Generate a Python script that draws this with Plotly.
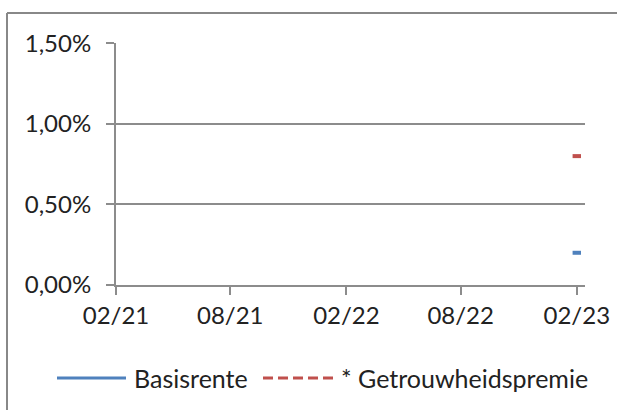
import plotly.graph_objects as go

# Data
dates = ["2023-02-01"]
basisrente = [0.0020]
getrouwheidspremie = [0.0080]
series_names = ["Basisrente", "* Getrouwheidspremie"]
tick_vals = ["2021-02-01", "2021-08-01", "2022-02-01", "2022-08-01", "2023-02-01"]
tick_text = ["02/21", "08/21", "02/22", "08/22", "02/23"]
y_ticks = [0.0, 0.005, 0.010, 0.015]
y_text = ["0,00%", "0,50%", "1,00%", "1,50%"]

BLUE = "#4F81BD"
RED = "#C0504D"
GRID = "#8C8C8C"
FONT = "Lato"
FS = 24

W, H = 617, 410
L, R, T, B = 116, 32, 43, 125

fig = go.Figure()
fig.add_trace(go.Scatter(x=dates, y=basisrente, mode="markers", name=series_names[0],
                         showlegend=False,
                         marker=dict(symbol="line-ew", size=6, line=dict(color=BLUE, width=4))))
fig.add_trace(go.Scatter(x=dates, y=getrouwheidspremie, mode="markers", name=series_names[1],
                         showlegend=False,
                         marker=dict(symbol="line-ew", size=6, line=dict(color=RED, width=4))))

pw = W - L - R
ph = H - T - B
def px_x(p):
    return (p - L) / pw
def px_y(p):
    return (H - B - p) / ph

# chart border (top and left visible)
border = dict(color="#888888", width=2)
fig.add_shape(type="line", xref="paper", yref="paper",
              x0=px_x(7), x1=px_x(620), y0=px_y(13), y1=px_y(13), line=border)
fig.add_shape(type="line", xref="paper", yref="paper",
              x0=px_x(7), x1=px_x(7), y0=px_y(13), y1=px_y(415), line=border)

# legend (manual)
ly = px_y(378)
fig.add_shape(type="line", xref="paper", yref="paper",
              x0=px_x(57), x1=px_x(126), y0=ly, y1=ly, line=dict(color=BLUE, width=3))
fig.add_shape(type="line", xref="paper", yref="paper",
              x0=px_x(263), x1=px_x(336), y0=ly, y1=ly,
              line=dict(color=RED, width=3, dash="10px,5px"))
fig.add_annotation(xref="paper", yref="paper", x=px_x(132), y=ly, text=series_names[0],
                   showarrow=False, xanchor="left", yanchor="middle",
                   font=dict(family=FONT, size=25, color="#222222"))
fig.add_annotation(xref="paper", yref="paper", x=px_x(339), y=ly, text=series_names[1],
                   showarrow=False, xanchor="left", yanchor="middle",
                   font=dict(family=FONT, size=25, color="#222222"))

fig.update_layout(
    width=W, height=H,
    margin=dict(l=L, r=R, t=T, b=B, autoexpand=False),
    paper_bgcolor="white", plot_bgcolor="white",
    font=dict(family=FONT, size=FS, color="#222222"),
    showlegend=False,
    xaxis=dict(type="date", range=["2021-02-01", "2023-02-14"],
               tickvals=tick_vals, ticktext=tick_text,
               showgrid=False, showline=True, linecolor=GRID, linewidth=2,
               ticks="outside", ticklen=8, tickwidth=2, tickcolor=GRID,
               tickfont=dict(family=FONT, size=FS), zeroline=False, fixedrange=True,
               automargin=False),
    yaxis=dict(range=[0, 0.01502], tickvals=y_ticks, ticktext=y_text,
               showgrid=True, gridcolor=GRID, gridwidth=2,
               showline=True, linecolor=GRID, linewidth=2,
               ticks="outside", ticklen=8, tickwidth=2, tickcolor=GRID,
               ticklabelstandoff=10,
               tickfont=dict(family=FONT, size=FS), zeroline=False, fixedrange=True,
               automargin=False),
)

fig.write_html("out.html", config={"displayModeBar": False},
               post_script="document.body.style.margin='0';document.body.style.overflow='hidden';")
